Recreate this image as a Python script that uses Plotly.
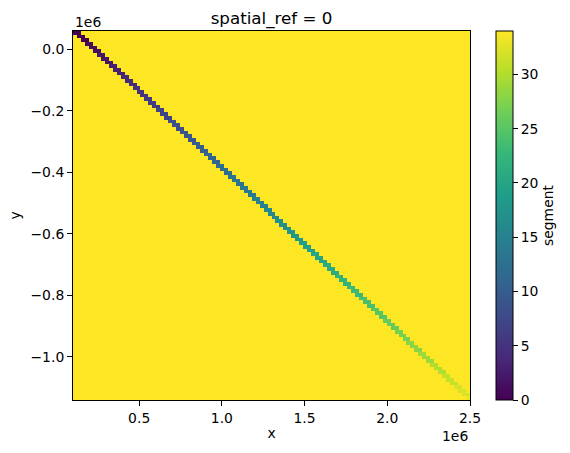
import plotly.graph_objects as go

# ---- data ----
n_cols = 100
n_rows = 100
x_origin = 100000.0      # left edge of raster (m)
x_step = 24000.0         # cell width (m)
y_origin = 60000.0       # top edge of raster (m)
y_step = -12000.0        # cell height (m)
background_value = 34

# segment id of the line cells in each row (row i covers cols i and i+1)
segment_ids = [0, 0, 0, 1, 1, 1, 2, 2, 2, 3, 3, 3, 4, 4, 4, 5, 5, 5, 6, 6, 6, 7, 7, 7,
               8, 8, 8, 9, 9, 9, 10, 10, 10, 11, 11, 11, 12, 12, 12, 13, 13, 13, 14, 14, 14,
               15, 15, 15, 16, 16, 16, 17, 17, 17, 18, 18, 18, 19, 19, 19, 20, 20, 20,
               21, 21, 21, 22, 22, 22, 23, 23, 23, 24, 24, 24, 25, 25, 25, 26, 26, 26,
               27, 27, 27, 28, 28, 28, 29, 29, 29, 30, 30, 30, 31, 31, 31, 32, 32, 32, 33]
cells_per_row = 2   # 4-connected rasterised line

x_tick_vals = [0.5e6, 1.0e6, 1.5e6, 2.0e6, 2.5e6]
x_tick_text = ["0.5", "1.0", "1.5", "2.0", "2.5"]
y_tick_vals = [0.0, -0.2e6, -0.4e6, -0.6e6, -0.8e6, -1.0e6]
y_tick_text = ["0.0", "\u22120.2", "\u22120.4", "\u22120.6", "\u22120.8", "\u22121.0"]
cb_tick_vals = [0, 5, 10, 15, 20, 25, 30]

# ---- build raster ----
x_centers = [x_origin + x_step * (j + 0.5) for j in range(n_cols)]
y_centers = [y_origin + y_step * (i + 0.5) for i in range(n_rows)]
z = [[background_value] * n_cols for _ in range(n_rows)]
for i, s in enumerate(segment_ids):
    for k in range(cells_per_row):
        if i + k < n_cols:
            z[i][i + k] = s

FONT = "DejaVu Sans"
FS = 13.9

W, H = 570, 453
L, R, T, B = 73, 470, 31, 400
pw, ph = R - L, B - T

fig = go.Figure()
fig.add_trace(go.Heatmap(
    x=x_centers, y=y_centers, z=z,
    colorscale="Viridis", zmin=0, zmax=background_value,
    zsmooth=False, hoverongaps=False,
    colorbar=dict(
        x=(496 - L) / pw, xanchor="left", xpad=0,
        y=0, yanchor="bottom", ypad=0,
        len=ph, lenmode="pixels",
        thickness=17, thicknessmode="pixels",
        outlinewidth=1, outlinecolor="black",
        tickmode="array", tickvals=cb_tick_vals,
        ticks="outside", ticklen=5, tickwidth=1, tickcolor="black",
        tickfont=dict(family=FONT, size=FS, color="black"),
        title=dict(text="segment", side="right",
                   font=dict(family=FONT, size=FS, color="black")),
    ),
))

axis_common = dict(
    showgrid=False, zeroline=False, showline=True, mirror=True,
    linecolor="black", linewidth=1, ticks="outside", ticklen=5,
    tickwidth=1, tickcolor="black",
    tickfont=dict(family=FONT, size=FS, color="black"),
)

fig.update_layout(
    width=W, height=H,
    margin=dict(l=L, r=W - R, t=T, b=H - B, pad=0),
    paper_bgcolor="white", plot_bgcolor="white",
    font=dict(family=FONT, size=FS, color="black"),
    title=dict(text="spatial_ref = 0", x=(L + R) / 2 / W, xanchor="center",
               y=1 - 18 / H, yanchor="middle",
               font=dict(family=FONT, size=16.7, color="black")),
    xaxis=dict(axis_common, range=[x_origin, x_origin + x_step * n_cols],
               tickmode="array", tickvals=x_tick_vals, ticktext=x_tick_text,
               title=dict(text="x", standoff=3,
                          font=dict(family=FONT, size=FS, color="black"))),
    yaxis=dict(axis_common, range=[y_origin + y_step * n_rows, y_origin],
               tickmode="array", tickvals=y_tick_vals, ticktext=y_tick_text,
               title=dict(text="y", standoff=6,
                          font=dict(family=FONT, size=FS, color="black"))),
)

fig.add_annotation(text="1e6", xref="paper", yref="paper", x=1, y=-(436 - B) / ph,
                   xanchor="right", yanchor="middle", showarrow=False,
                   font=dict(family=FONT, size=FS, color="black"))
fig.add_annotation(text="1e6", xref="paper", yref="paper", x=0, y=1 + (T - 22) / ph,
                   xanchor="left", yanchor="middle", showarrow=False,
                   font=dict(family=FONT, size=FS, color="black"))

fig.write_html("out.html")
